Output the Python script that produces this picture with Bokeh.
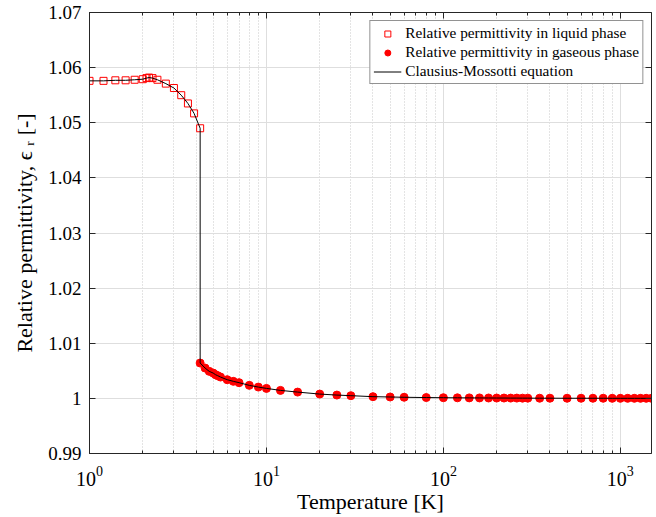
from bokeh.plotting import figure
from bokeh.models import (LogAxis, LinearAxis, FixedTicker, LogTicker,
                          CustomJSTickFormatter, Legend, LegendItem)
from bokeh.embed import file_html
from bokeh.resources import INLINE

# Liquid phase
T_liq = [1.0, 1.2, 1.4, 1.6, 1.8, 2.0, 2.1, 2.17, 2.27, 2.42, 2.7, 3.0, 3.3, 3.6, 3.9, 4.22]
eps_liq = [1.0576, 1.0576, 1.0577, 1.0577, 1.0578, 1.0579, 1.0581, 1.0582, 1.0581, 1.0578,
           1.0571, 1.0563, 1.0550, 1.0535, 1.0517, 1.0490]

# Gaseous phase
T_gas = [4.22, 4.5, 4.75, 5.0, 5.15, 5.3, 5.5, 6, 6.5, 7, 8, 9, 10, 12, 15, 20, 25, 30, 40,
         50, 60, 80, 100, 120, 140, 160, 180, 200, 220, 240, 260, 280, 300, 350, 400, 500,
         600, 700, 800, 900, 1000, 1100, 1200, 1300, 1400, 1500]
eps_gas = [1.00641, 1.00550, 1.00490, 1.00459, 1.00430, 1.00412, 1.00387, 1.00339, 1.00309,
           1.00285, 1.00236, 1.00205, 1.00181, 1.00145, 1.00114, 1.00078, 1.00060, 1.00049,
           1.00031, 1.00025, 1.00020, 1.00015, 1.00012, 1.00010, 1.00009, 1.00008, 1.00007,
           1.00006, 1.00006, 1.00005, 1.00005, 1.00004, 1.00004, 1.00003, 1.00003, 1.00002,
           1.00002, 1.00002, 1.00002, 1.00001, 1.00001, 1.00001, 1.00001, 1.00001, 1.00001,
           1.00001]

# Clausius-Mossotti curve
T_cm = T_liq + T_gas
eps_cm = eps_liq + eps_gas

y_ticks = [0.99, 1.0, 1.01, 1.02, 1.03, 1.04, 1.05, 1.06, 1.07]

FONT = "Liberation Serif"
AX = "#262626"

p = figure(x_axis_type="log", x_range=(1, 1500), y_range=(0.99, 1.07),
           frame_width=562, frame_height=441,
           min_border_left=89, min_border_right=5, min_border_top=12, min_border_bottom=63,
           output_backend="svg", toolbar_location=None,
           background_fill_color="white", border_fill_color="white",
           outline_line_color=None)

bx = p.below[0]
ly = p.left[0]

yt = FixedTicker(ticks=y_ticks)
yfmt = CustomJSTickFormatter(code="return tick.toFixed(2).replace(/\\.?0+$/, '');")
blank = CustomJSTickFormatter(code="return '';")
xt = LogTicker(num_minor_ticks=10)

bx.ticker = xt
ly.ticker = yt
ly.formatter = yfmt

top = LogAxis(ticker=xt, formatter=blank)
right = LinearAxis(ticker=yt, formatter=blank)
p.add_layout(top, "above")
p.add_layout(right, "right")

for ax in [bx, ly, top, right]:
    ax.axis_line_color = AX
    ax.axis_line_width = 1
    ax.major_tick_line_color = AX
    ax.minor_tick_line_color = AX
    ax.major_tick_in = 6
    ax.major_tick_out = 0
    ax.minor_tick_in = 3
    ax.minor_tick_out = 0
    ax.major_label_text_font = FONT
    ax.major_label_text_font_size = "19px"
    ax.major_label_text_color = "black"
    ax.axis_label_text_font = FONT
    ax.axis_label_text_font_size = "22px"
    ax.axis_label_text_font_style = "normal"
    ax.axis_label_text_color = "black"

for ax in [ly, right]:
    ax.minor_tick_line_color = None

for ax in [top, right]:
    ax.major_label_text_font_size = "1px"
    ax.major_label_standoff = 0

bx.major_label_text_font_size = "20px"
bx.major_label_standoff = 12
ly.major_label_standoff = 8
bx.axis_label = "Temperature [K]"
ly.axis_label = "Relative permittivity, ϵ ᵣ [-]"
bx.axis_label_standoff = 0
ly.axis_label_standoff = 8

p.xgrid.grid_line_color = "#dedede"
p.xgrid.minor_grid_line_color = "#c8c8c8"
p.xgrid.minor_grid_line_dash = "1 2"
p.ygrid.ticker = yt
p.ygrid.grid_line_color = "#dedede"

r_liq = p.scatter(T_liq, eps_liq, marker="square", size=7, line_color="red",
                  fill_color=None, line_width=1)
r_gas = p.scatter(T_gas, eps_gas, marker="circle", size=8, line_color="red",
                  fill_color="red")
r_cm = p.line(T_cm, eps_cm, line_color="black", line_width=1)

legend = Legend(items=[
    LegendItem(label="Relative permittivity in liquid phase", renderers=[r_liq]),
    LegendItem(label="Relative permittivity in gaseous phase", renderers=[r_gas]),
    LegendItem(label="Clausius-Mossotti equation", renderers=[r_cm]),
], location="top_right")
legend.margin = 8
legend.padding = 3
legend.spacing = 1
legend.glyph_width = 28
legend.glyph_height = 15
legend.label_height = 15
legend.label_standoff = 4
legend.label_text_font = FONT
legend.label_text_font_size = "15.3px"
legend.label_text_color = "black"
legend.border_line_color = AX
legend.border_line_width = 1
legend.background_fill_color = "white"
legend.background_fill_alpha = 1
p.add_layout(legend, "center")

open("out.html", "w").write(file_html(p, INLINE))
